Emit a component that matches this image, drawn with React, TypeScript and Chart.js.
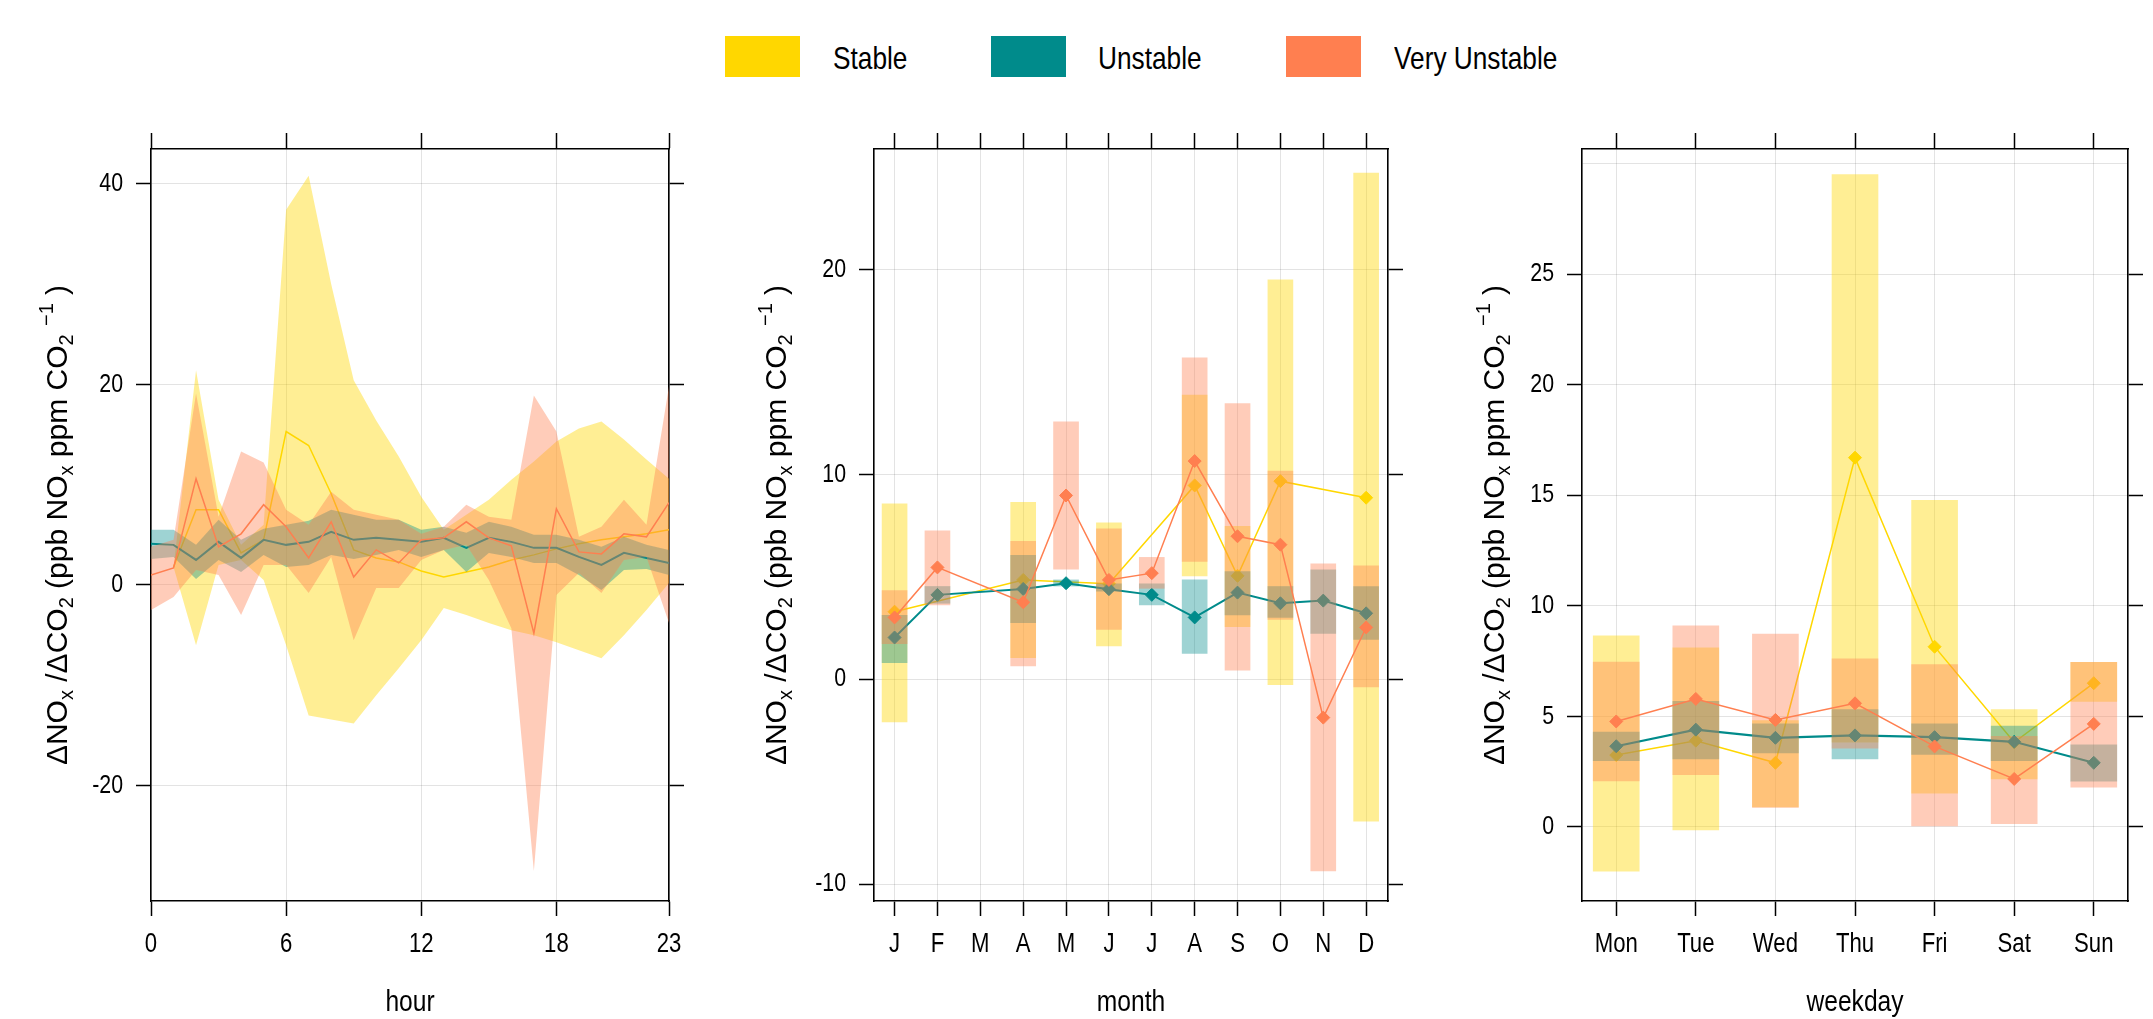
import React, { useEffect, useRef } from 'react';
import { Chart, registerables } from 'chart.js';
Chart.register(...registerables);

const SANS = '"Liberation Sans", Arial, sans-serif';
const SX = 0.82; // horizontal condensing of the narrow labels

const YELLOW = '#FFD700';
const TEAL = '#008B8B';
const CORAL = '#FF7F50';
const BAND_Y = 'rgba(255,215,0,0.42)';
const BAND_T = 'rgba(0,139,139,0.38)';
const BAND_C = 'rgba(255,127,80,0.40)';
const GRID = 'rgba(0,0,0,0.11)';

const seriesNames = ['Stable', 'Unstable', 'Very Unstable'];

// ---------- hour panel ----------
const hourIdx = [0, 1, 2, 3, 4, 5, 6, 7, 8, 9, 10, 11, 12, 13, 14, 15, 16, 17, 18, 19, 20, 21, 22, 23];
const hourTicks = [0, 6, 12, 18, 23];
const stableHour = [null, 1.8, 7.5, 7.5, 3.2, 4.5, 15.3, 13.9, 9.1, 3.5, 2.7, 2.3, 1.4, 0.8, 1.3, 1.8, 2.5, 3.0, 3.6, 4.1, 4.5, 4.8, 5.1, 5.5];
const stableHourLo = [null, 1.8, -6.0, 2.0, 2.5, 0.5, -6.0, -13.0, -13.4, -13.8, -11.0, -8.3, -5.5, -2.3, -3.0, -3.8, -4.5, -5.0, -5.7, -6.5, -7.3, -5.0, -2.5, 0.2];
const stableHourHi = [null, 1.8, 21.4, 8.5, 4.0, 6.0, 37.4, 40.8, 30.0, 20.4, 16.4, 12.8, 8.8, 5.5, 7.0, 8.5, 10.5, 12.3, 14.3, 15.6, 16.3, 14.5, 12.5, 10.6];
const unstableHour = [4.1, 4.0, 2.5, 4.3, 2.7, 4.5, 4.0, 4.3, 5.3, 4.5, 4.7, 4.5, 4.3, 4.7, 3.7, 4.7, 4.3, 3.7, 3.7, 2.8, 2.0, 3.2, 2.7, 2.2];
const unstableHourLo = [2.6, 2.8, 0.6, 2.5, 1.3, 3.0, 1.8, 2.0, 3.0, 2.6, 3.0, 3.5, 2.8, 3.5, 1.3, 3.2, 2.8, 2.2, 2.2, 1.0, -0.5, 1.5, 1.6, 1.0];
const unstableHourHi = [5.5, 5.5, 4.0, 6.5, 4.5, 5.6, 6.0, 6.4, 7.5, 7.0, 6.5, 6.5, 5.5, 5.8, 5.2, 6.3, 5.8, 5.0, 5.0, 4.5, 3.8, 4.8, 4.0, 3.5];
const veryHour = [1.0, 1.7, 10.6, 3.8, 5.1, 8.0, 5.8, 2.7, 6.3, 0.8, 3.5, 2.2, 4.5, 4.7, 6.3, 4.7, 3.9, -4.8, 7.6, 3.3, 3.1, 5.1, 4.8, 8.2];
const veryHourLo = [-2.5, -1.2, 1.5, 1.0, -3.0, 2.0, 2.0, -0.8, 2.8, -5.5, -0.3, -0.3, 2.5, 3.5, 4.0, 0.5, -4.3, -28.5, -1.0, 1.2, -0.8, 2.5, 2.8, -3.8];
const veryHourHi = [3.8, 4.5, 19.1, 6.8, 13.3, 12.2, 7.5, 6.0, 9.3, 7.5, 7.0, 6.5, 5.1, 5.8, 8.0, 6.8, 6.5, 18.9, 15.3, 4.8, 5.8, 8.5, 6.0, 19.8];
const hourYTicks = [-20, 0, 20, 40];

// ---------- month panel ----------
const monthIdx = [0, 1, 2, 3, 4, 5, 6, 7, 8, 9, 10, 11];
const monthLabels = ['J', 'F', 'M', 'A', 'M', 'J', 'J', 'A', 'S', 'O', 'N', 'D'];
const stableMonth = [3.3, null, null, 4.85, null, 4.66, null, 9.46, 5.05, 9.67, null, 8.86];
const stableMonthLo = [-2.08, null, null, 1.05, null, 1.63, null, 5.05, 2.57, -0.26, null, -6.93];
const stableMonthHi = [8.56, null, null, 8.64, null, 7.63, null, 13.87, 7.47, 19.49, null, 24.7];
const unstableMonth = [2.04, 4.12, null, 4.41, 4.69, 4.4, 4.12, 3.02, 4.23, 3.71, 3.84, 3.22];
const unstableMonthLo = [0.81, 3.71, null, 2.76, 4.55, 4.3, 3.63, 1.26, 3.14, 3.02, 2.24, 1.94];
const unstableMonthHi = [3.12, 4.53, null, 6.05, 4.85, 4.66, 4.66, 4.85, 5.26, 4.53, 5.34, 4.53];
const veryMonth = [3.02, 5.46, null, 3.76, 8.97, 4.85, 5.18, 10.65, 6.98, 6.57, -1.87, 2.53];
const veryMonthLo = [1.74, 3.63, null, 0.65, 5.38, 2.43, 4.44, 5.75, 0.44, 2.92, -9.35, -0.37];
const veryMonthHi = [4.33, 7.25, null, 6.73, 12.57, 7.34, 5.95, 15.69, 13.46, 10.16, 5.64, 5.54];
const monthYTicks = [-10, 0, 10, 20];

// ---------- weekday panel ----------
const dayIdx = [0, 1, 2, 3, 4, 5, 6];
const dayLabels = ['Mon', 'Tue', 'Wed', 'Thu', 'Fri', 'Sat', 'Sun'];
const stableDay = [3.25, 3.9, 2.9, 16.7, 8.15, 3.83, 6.5];
const stableDayLo = [-2.0, -0.14, 0.9, 3.83, 1.53, 2.17, 5.68];
const stableDayHi = [8.64, 8.1, 4.81, 29.5, 14.77, 5.31, 7.44];
const unstableDay = [3.65, 4.4, 4.03, 4.14, 4.06, 3.85, 2.9];
const unstableDayLo = [3.0, 3.08, 3.35, 3.08, 3.28, 3.0, 2.07];
const unstableDayHi = [4.29, 5.68, 4.66, 5.31, 4.66, 4.56, 3.71];
const veryDay = [4.77, 5.79, 4.84, 5.59, 3.64, 2.17, 4.66];
const veryDayLo = [2.08, 2.36, 0.88, 3.56, 0.05, 0.15, 1.8];
const veryDayHi = [7.45, 9.1, 8.72, 7.6, 7.34, 4.1, 7.44];
const dayYTicks = [0, 5, 10, 15, 20, 25, 30];

const Y_TITLE: [string, number][] = [
  ['\u0394NO', 0], ['x', 1], [' /\u0394CO', 0], ['2', 1], [' (ppb NO', 0], ['x', 1],
  [' ppm CO', 0], ['2', 1], [' ', 0], ['\u22121', 2], [' )', 0],
];

function drawYTitle(ctx: CanvasRenderingContext2D, cx: number, cy: number) {
  const big = 30, small = 20;
  ctx.save();
  ctx.translate(cx, cy);
  ctx.rotate(-Math.PI / 2);
  ctx.fillStyle = '#000';
  ctx.textBaseline = 'alphabetic';
  ctx.textAlign = 'left';
  let total = 0;
  for (const [t, k] of Y_TITLE) {
    ctx.font = `${k ? small : big}px ${SANS}`;
    total += ctx.measureText(t).width;
  }
  let x = -total / 2;
  const base = big * 0.36;
  for (const [t, k] of Y_TITLE) {
    ctx.font = `${k ? small : big}px ${SANS}`;
    const dy = k === 1 ? base + 6 : k === 2 ? base - 14 : base;
    ctx.fillText(t, x, dy);
    x += ctx.measureText(t).width;
  }
  ctx.restore();
}

function drawNarrow(ctx: CanvasRenderingContext2D, text: string, x: number, y: number, align: CanvasTextAlign, size: number) {
  ctx.save();
  ctx.translate(x, y);
  ctx.scale(SX, 1);
  ctx.font = `${size}px ${SANS}`;
  ctx.textAlign = align;
  ctx.textBaseline = 'middle';
  ctx.fillStyle = '#000';
  ctx.fillText(text, 0, 0);
  ctx.restore();
}

function pts(xs: number[], ys: (number | null)[]) {
  return xs.map((x, i) => ({ x, y: ys[i] }));
}
function bars(xs: number[], lo: (number | null)[], hi: (number | null)[]) {
  const out: any[] = [];
  xs.forEach((x, i) => {
    if (lo[i] != null && hi[i] != null) out.push({ x, y: [lo[i], hi[i]] });
  });
  return out;
}

type AxisOpts = {
  xMin: number; xMax: number; xTicks: number[]; xLabel: (v: number) => string; xTitle: string;
  yMin: number; yMax: number; yTicks: number[]; yHiddenLabel?: number; leftW: number; titleX: number;
};

function makeScales(o: AxisOpts) {
  const tickColor = (ctx: any) =>
    o.yHiddenLabel !== undefined && ctx.tick && ctx.tick.value === o.yHiddenLabel ? 'rgba(0,0,0,0)' : '#000';
  return {
    x: {
      type: 'linear', axis: 'x', position: 'bottom', min: o.xMin, max: o.xMax, bounds: 'data', offset: false,
      afterBuildTicks: (s: any) => { s.ticks = o.xTicks.map((v) => ({ value: v })); },
      afterFit: (s: any) => { s.height = 118; },
      grid: { color: GRID, lineWidth: 1, offset: false, drawTicks: true, tickLength: 15, tickColor: '#000', tickWidth: 1.5 },
      border: { color: '#000', width: 1.6 },
      ticks: { display: false },
      title: { display: false },
    },
    xTop: {
      type: 'linear', axis: 'x', position: 'top', min: o.xMin, max: o.xMax, bounds: 'data', offset: false,
      afterBuildTicks: (s: any) => { s.ticks = o.xTicks.map((v) => ({ value: v })); },
      afterFit: (s: any) => { s.height = 16; },
      grid: { drawOnChartArea: false, offset: false, drawTicks: true, tickLength: 16, tickColor: '#000', tickWidth: 1.5 },
      border: { color: '#000', width: 1.6 },
      ticks: { display: false },
    },
    y: {
      type: 'linear', axis: 'y', position: 'left', min: o.yMin, max: o.yMax, bounds: 'data',
      afterBuildTicks: (s: any) => { s.ticks = o.yTicks.map((v) => ({ value: v })); },
      afterFit: (s: any) => { s.width = o.leftW; },
      grid: { color: GRID, lineWidth: 1, drawTicks: true, tickLength: 15, tickColor, tickWidth: 1.5 },
      border: { color: '#000', width: 1.6 },
      ticks: { display: false },
    },
    yRight: {
      type: 'linear', axis: 'y', position: 'right', min: o.yMin, max: o.yMax, bounds: 'data',
      afterBuildTicks: (s: any) => { s.ticks = o.yTicks.map((v) => ({ value: v })); },
      afterFit: (s: any) => { s.width = 15; },
      grid: { drawOnChartArea: false, drawTicks: true, tickLength: 15, tickColor, tickWidth: 1.5 },
      border: { color: '#000', width: 1.6 },
      ticks: { display: false },
    },
  };
}

function textPlugin(o: AxisOpts) {
  return {
    id: 'axisText',
    afterDraw(chart: any) {
      const ctx = chart.ctx as CanvasRenderingContext2D;
      const a = chart.chartArea;
      const xs = chart.scales.x;
      const ys = chart.scales.y;
      for (const v of o.xTicks) {
        drawNarrow(ctx, o.xLabel(v), xs.getPixelForValue(v), 945, 'center', 27);
      }
      for (const v of o.yTicks) {
        if (o.yHiddenLabel !== undefined && v === o.yHiddenLabel) continue;
        drawNarrow(ctx, String(v), a.left - 28, ys.getPixelForValue(v), 'right', 26);
      }
      drawNarrow(ctx, o.xTitle, (a.left + a.right) / 2, 1003, 'center', 30);
      drawYTitle(ctx, o.titleX, (a.top + a.bottom) / 2);
    },
  };
}

function baseOptions(scales: any, rightPad: number) {
  return {
    responsive: false,
    animation: false,
    devicePixelRatio: 1,
    events: [],
    layout: { padding: { top: 133, right: rightPad, left: 0, bottom: 0 } },
    plugins: { legend: { display: false }, tooltip: { enabled: false } },
    scales,
  };
}

const transparent = 'rgba(0,0,0,0)';

function bandPair(xs: number[], lo: (number | null)[], hi: (number | null)[], color: string, loIndex: number, order: number) {
  return [
    { type: 'line', data: pts(xs, lo), borderColor: transparent, borderWidth: 0, pointRadius: 0, fill: false, order, tension: 0 },
    { type: 'line', data: pts(xs, hi), borderColor: transparent, borderWidth: 0, pointRadius: 0, fill: { target: loIndex }, backgroundColor: color, order, tension: 0 },
  ];
}

function meanLine(xs: number[], ys: (number | null)[], color: string, width: number, markers: boolean, order: number, label: string) {
  return {
    type: 'line', label, data: pts(xs, ys), borderColor: color, borderWidth: width, backgroundColor: color,
    pointRadius: markers ? 6.5 : 0, pointStyle: 'rectRot', pointBackgroundColor: color, pointBorderColor: color,
    pointBorderWidth: 1, spanGaps: markers, fill: false, order, tension: 0,
  };
}

function barSet(xs: number[], lo: (number | null)[], hi: (number | null)[], color: string, thick: number, order: number) {
  return {
    type: 'bar', data: bars(xs, lo, hi), backgroundColor: color, borderWidth: 0, grouped: false,
    barThickness: thick, order,
  };
}

function hourConfig() {
  const o: AxisOpts = {
    xMin: 0, xMax: 23, xTicks: hourTicks, xLabel: (v) => String(v), xTitle: 'hour',
    yMin: -31.5, yMax: 43.46, yTicks: hourYTicks, leftW: 151, titleX: 56,
  };
  return {
    type: 'line',
    data: {
      datasets: [
        ...bandPair(hourIdx, stableHourLo, stableHourHi, BAND_Y, 0, 6),
        ...bandPair(hourIdx, unstableHourLo, unstableHourHi, BAND_T, 2, 4),
        ...bandPair(hourIdx, veryHourLo, veryHourHi, BAND_C, 4, 2),
        meanLine(hourIdx, stableHour, YELLOW, 1.5, false, 5, seriesNames[0]),
        meanLine(hourIdx, unstableHour, TEAL, 2, false, 3, seriesNames[1]),
        meanLine(hourIdx, veryHour, CORAL, 1.5, false, 1, seriesNames[2]),
      ],
    },
    options: baseOptions(makeScales(o), 16),
    plugins: [textPlugin(o)],
  };
}

function monthConfig() {
  const o: AxisOpts = {
    xMin: -0.48, xMax: 11.51, xTicks: monthIdx, xLabel: (v) => monthLabels[v] ?? '', xTitle: 'month',
    yMin: -10.82, yMax: 25.88, yTicks: monthYTicks, leftW: 174, titleX: 75,
  };
  return {
    type: 'bar',
    data: {
      datasets: [
        barSet(monthIdx, stableMonthLo, stableMonthHi, BAND_Y, 25, 6),
        barSet(monthIdx, unstableMonthLo, unstableMonthHi, BAND_T, 25, 4),
        barSet(monthIdx, veryMonthLo, veryMonthHi, BAND_C, 25, 2),
        meanLine(monthIdx, stableMonth, YELLOW, 1.5, true, 5, seriesNames[0]),
        meanLine(monthIdx, unstableMonth, TEAL, 2, true, 3, seriesNames[1]),
        meanLine(monthIdx, veryMonth, CORAL, 1.5, true, 1, seriesNames[2]),
      ],
    },
    options: baseOptions(makeScales(o), 17),
    plugins: [textPlugin(o)],
  };
}

function dayConfig() {
  const o: AxisOpts = {
    xMin: -0.43, xMax: 6.43, xTicks: dayIdx, xLabel: (v) => dayLabels[v] ?? '', xTitle: 'weekday',
    yMin: -3.35, yMax: 30.66, yTicks: dayYTicks, yHiddenLabel: 30, leftW: 162, titleX: 73,
  };
  return {
    type: 'bar',
    data: {
      datasets: [
        barSet(dayIdx, stableDayLo, stableDayHi, BAND_Y, 46, 6),
        barSet(dayIdx, unstableDayLo, unstableDayHi, BAND_T, 46, 4),
        barSet(dayIdx, veryDayLo, veryDayHi, BAND_C, 46, 2),
        meanLine(dayIdx, stableDay, YELLOW, 1.5, true, 5, seriesNames[0]),
        meanLine(dayIdx, unstableDay, TEAL, 2.2, true, 3, seriesNames[1]),
        meanLine(dayIdx, veryDay, CORAL, 1.5, true, 1, seriesNames[2]),
      ],
    },
    options: baseOptions(makeScales(o), 10),
    plugins: [textPlugin(o)],
  };
}

function Panel({ left, width, make }: { left: number; width: number; make: () => any }) {
  const ref = useRef<HTMLCanvasElement>(null);
  useEffect(() => {
    const chart = new Chart(ref.current as HTMLCanvasElement, make());
    return () => chart.destroy();
  }, []);
  return (
    <canvas
      ref={ref}
      width={width}
      height={1019}
      style={{ position: 'absolute', left, top: 0, width, height: 1019 }}
    />
  );
}

const legendItems = [
  { name: seriesNames[0], color: YELLOW, boxLeft: 725, textLeft: 833 },
  { name: seriesNames[1], color: TEAL, boxLeft: 991, textLeft: 1098 },
  { name: seriesNames[2], color: CORAL, boxLeft: 1286, textLeft: 1394 },
];

export default function App() {
  useEffect(() => {
    document.body.style.margin = '0';
    document.body.style.background = '#fff';
  }, []);
  return (
    <div style={{ position: 'relative', width: 2153, height: 1019, overflow: 'hidden', background: '#fff' }}>
      {legendItems.map((it) => (
        <React.Fragment key={it.name}>
          <div style={{ position: 'absolute', left: it.boxLeft, top: 36, width: 75, height: 41, background: it.color }} />
          <div
            style={{
              position: 'absolute', left: it.textLeft, top: 38, height: 40, display: 'flex', alignItems: 'center',
              fontFamily: SANS, fontSize: 32, color: '#000', whiteSpace: 'nowrap',
              transform: `scaleX(${SX})`, transformOrigin: 'left center',
            }}
          >
            {it.name}
          </div>
        </React.Fragment>
      ))}
      <Panel left={0} width={700} make={hourConfig} />
      <Panel left={700} width={720} make={monthConfig} />
      <Panel left={1420} width={733} make={dayConfig} />
    </div>
  );
}
